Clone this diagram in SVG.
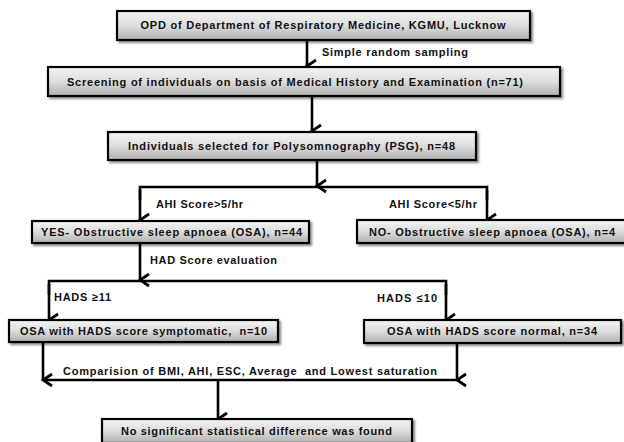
<svg xmlns="http://www.w3.org/2000/svg" width="624" height="442" viewBox="0 0 624 442">
<defs>
<linearGradient id="g" x1="0" y1="0" x2="0" y2="1">
<stop offset="0" stop-color="#f4f4f4"/>
<stop offset="0.5" stop-color="#dcdcdc"/>
<stop offset="1" stop-color="#b0b0b0"/>
</linearGradient>
<filter id="sh" x="-5%" y="-20%" width="110%" height="150%">
<feDropShadow dx="2" dy="2" stdDeviation="1.2" flood-color="#000" flood-opacity="0.45"/>
</filter>
<marker id="ah" markerUnits="userSpaceOnUse" markerWidth="16" markerHeight="13" refX="7.5" refY="11" orient="auto" viewBox="0 0 15 13">
<path d="M1.5,2 L7.5,11 L13.5,2" fill="none" stroke="#000" stroke-width="2.8"/>
</marker>
</defs>
<style>
.box{fill:url(#g);stroke:#000;stroke-width:2.2;filter:url(#sh)}
.t{font-family:"Liberation Sans",Arial,sans-serif;font-weight:bold;font-size:11px;fill:#111}
.c{text-anchor:middle}
.ln{fill:none;stroke:#000;stroke-width:2.6}
.ar{fill:none;stroke:#000;stroke-width:2.6;marker-end:url(#ah)}
</style>
<rect width="624" height="442" fill="#fff"/>
<g id="connectors">
<line class="ar" x1="307" y1="40" x2="307" y2="66"/>
<line class="ar" x1="312" y1="96" x2="312" y2="131"/>
<line class="ar" x1="317" y1="160" x2="317" y2="186"/>
<polyline class="ln" points="140,200 140,187 487,187 487,200"/>
<line class="ar" x1="140" y1="190" x2="140" y2="220"/>
<line class="ar" x1="487" y1="190" x2="487" y2="220"/>
<line class="ar" x1="140" y1="243" x2="140" y2="280"/>
<polyline class="ln" points="49,295 49,281 446,281 446,295"/>
<line class="ar" x1="49" y1="284" x2="49" y2="320"/>
<line class="ar" x1="446" y1="284" x2="446" y2="320"/>
<line class="ar" x1="43" y1="342" x2="43" y2="380"/>
<line class="ar" x1="457" y1="343" x2="457" y2="380"/>
<polyline class="ln" points="43,380 457,380"/>
<line class="ar" x1="218" y1="380" x2="218" y2="419"/>
</g>
<g id="labels">
<text class="t" x="322" y="56" textLength="146" lengthAdjust="spacing">Simple random sampling</text>
<text class="t" x="156" y="208" textLength="87" lengthAdjust="spacing">AHI Score&gt;5/hr</text>
<text class="t" x="389" y="208" textLength="88" lengthAdjust="spacing">AHI Score&lt;5/hr</text>
<text class="t" x="150" y="264" textLength="127" lengthAdjust="spacing">HAD Score evaluation</text>
<text class="t" x="54" y="301" textLength="57" lengthAdjust="spacing">HADS ≥11</text>
<text class="t" x="377" y="302" textLength="60" lengthAdjust="spacing">HADS ≤10</text>
<text class="t" x="63" y="375" textLength="374" lengthAdjust="spacing" xml:space="preserve">Comparision of BMI, AHI, ESC, Average  and Lowest saturation</text>
</g>
<g id="n1"><rect class="box" x="117" y="11" width="413" height="29"/>
<text class="t c" x="323" y="29" textLength="365" lengthAdjust="spacing">OPD of Department of Respiratory Medicine, KGMU, Lucknow</text></g>
<g id="n2"><rect class="box" x="48" y="67" width="512" height="29"/>
<text class="t c" x="295" y="86" textLength="456" lengthAdjust="spacing">Screening of individuals on basis of Medical History and Examination (n=71)</text></g>
<g id="n3"><rect class="box" x="108" y="132" width="368" height="28"/>
<text class="t c" x="291.5" y="150" textLength="327" lengthAdjust="spacing">Individuals selected for Polysomnography (PSG), n=48</text></g>
<g id="n4"><rect class="box" x="32" y="221" width="277" height="22"/>
<text class="t c" x="171.5" y="236" textLength="261" lengthAdjust="spacing">YES- Obstructive sleep apnoea (OSA), n=44</text></g>
<g id="n5"><rect class="box" x="357" y="220" width="270" height="23"/>
<text class="t c" x="492" y="236" textLength="246" lengthAdjust="spacing">NO- Obstructive sleep apnoea (OSA), n=4</text></g>
<g id="n6"><rect class="box" x="9" y="320" width="269" height="22"/>
<text class="t c" x="143.5" y="335" textLength="247" lengthAdjust="spacing" xml:space="preserve">OSA with HADS score symptomatic,  n=10</text></g>
<g id="n7"><rect class="box" x="364" y="320" width="257" height="23"/>
<text class="t c" x="492" y="335" textLength="210" lengthAdjust="spacing">OSA with HADS score normal, n=34</text></g>
<g id="n8"><rect class="box" x="102" y="419" width="310" height="24"/>
<text class="t c" x="256.5" y="435" textLength="271" lengthAdjust="spacing">No significant statistical difference was found</text></g>
</svg>
